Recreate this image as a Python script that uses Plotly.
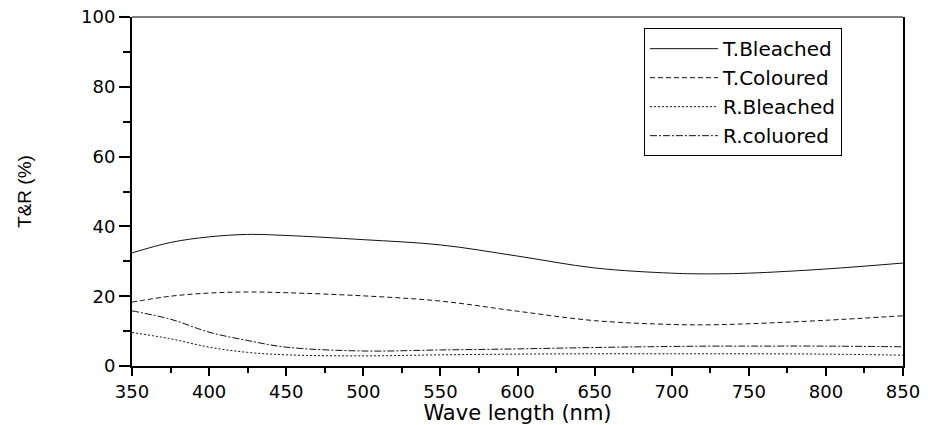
import plotly.graph_objects as go

wavelength = [350, 375, 400, 425, 450, 500, 550, 600, 650, 700, 725, 750, 800, 850]
t_bleached = [32.4, 35.4, 37.0, 37.7, 37.4, 36.2, 34.7, 31.5, 28.1, 26.6, 26.4, 26.6, 27.8, 29.5]
t_coloured = [18.3, 20.0, 20.9, 21.2, 21.0, 20.1, 18.6, 15.7, 13.0, 11.9, 11.8, 12.1, 13.1, 14.4]
r_bleached = [9.6, 7.8, 5.4, 3.9, 3.2, 2.9, 3.2, 3.4, 3.5, 3.5, 3.5, 3.5, 3.4, 3.1]
r_coloured = [15.8, 13.4, 9.7, 7.3, 5.4, 4.3, 4.6, 4.9, 5.3, 5.6, 5.7, 5.7, 5.7, 5.5]

series = [
    ("T.Bleached", t_bleached, "solid"),
    ("T.Coloured", t_coloured, "5px,3px"),
    ("R.Bleached", r_bleached, "2px,2px"),
    ("R.coluored", r_coloured, "7px,2px,2px,2px"),
]

fig = go.Figure()
for name, vals, dash in series:
    fig.add_trace(go.Scatter(
        x=wavelength, y=vals, name=name, mode="lines",
        line=dict(color="#111111", width=1, dash=dash, shape="spline", smoothing=1.0),
    ))

font = "DejaVu Sans"
fig.update_layout(
    width=928, height=425,
    margin=dict(l=132, r=25, t=17, b=59),
    paper_bgcolor="white", plot_bgcolor="white",
    font=dict(family=font, color="black"),
    showlegend=True,
    legend=dict(
        x=0.664, y=0.968, xanchor="left", yanchor="top",
        bgcolor="white", bordercolor="black", borderwidth=1,
        font=dict(family=font, size=20, color="black"),
        tracegroupgap=0, itemwidth=68,
    ),
    xaxis=dict(
        range=[350, 850], tickmode="linear", tick0=350, dtick=50,
        showgrid=False, zeroline=False,
        showline=True, linecolor="black", linewidth=2,
        ticks="outside", ticklen=8, tickwidth=2, tickcolor="black",
        minor=dict(ticks="outside", ticklen=5, tickwidth=2, tickcolor="black", dtick=25, showgrid=False),
        tickfont=dict(family=font, size=18, color="black"),
        title=dict(text="Wave length (nm)", font=dict(family=font, size=21, color="black"), standoff=3),
        automargin=False,
    ),
    yaxis=dict(
        range=[0, 100], tickmode="linear", tick0=0, dtick=20,
        showgrid=False, zeroline=False,
        showline=True, linecolor="black", linewidth=2, mirror=True,
        ticks="outside", ticklen=11, tickwidth=2, tickcolor="black",
        minor=dict(ticks="outside", ticklen=7, tickwidth=2, tickcolor="black", dtick=10, showgrid=False),
        tickfont=dict(family=font, size=18, color="black"),
        title=dict(text="T&R (%)", font=dict(family="Liberation Sans", size=19, color="black"), standoff=44),
        automargin=False,
    ),
)

fig.add_shape(type="line", xref="paper", yref="paper", x0=0, x1=1, y0=1, y1=1,
              line=dict(color="black", width=1))

fig.write_html("out.html")
